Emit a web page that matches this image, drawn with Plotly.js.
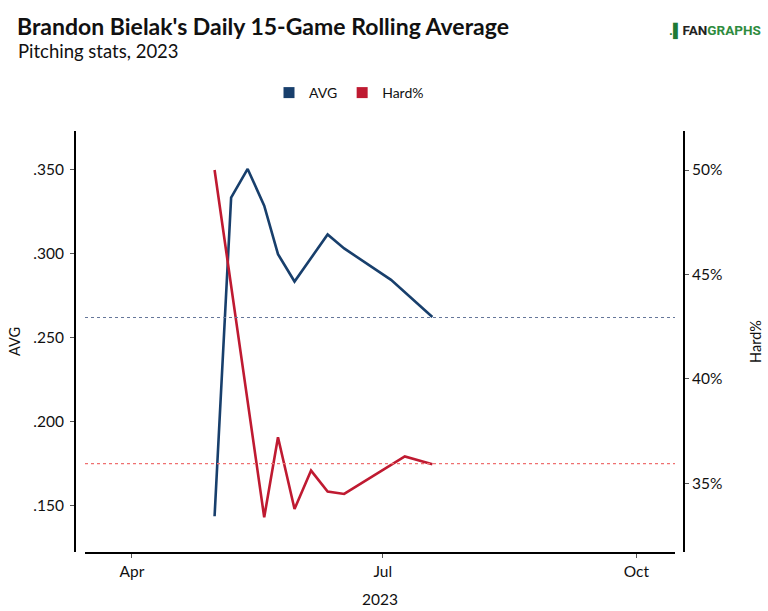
<!DOCTYPE html>
<html>
<head>
<meta charset="utf-8">
<script src="https://cdn.plot.ly/plotly-3.0.1.min.js"></script>
<style>
  html, body { margin: 0; padding: 0; background: #fff; }
  #chart { width: 768px; height: 611px; }
</style>
</head>
<body>
<div id="chart"></div>
<script>
// ---- data ----
var avgDates  = ['2023-05-01','2023-05-07','2023-05-13','2023-05-19','2023-05-24','2023-05-30','2023-06-11','2023-06-17','2023-07-04','2023-07-19'];
var avgValues = [0.1439, 0.3335, 0.3506, 0.3288, 0.2999, 0.2836, 0.3116, 0.3033, 0.2846, 0.2625];
var hardDates  = ['2023-05-01','2023-05-19','2023-05-24','2023-05-30','2023-06-05','2023-06-11','2023-06-17','2023-07-09','2023-07-19'];
var hardValues = [0.500, 0.3336, 0.372, 0.3376, 0.356, 0.346, 0.3448, 0.3628, 0.3591];
var avgSeason  = 0.2622;   // dotted reference for AVG
var hardSeason = 0.3593;   // dotted reference for Hard%
var xTickVals  = ['2023-04-01','2023-07-01','2023-10-01'];
var xTickText  = ['Apr','Jul','Oct'];
var avgTicks   = [0.150, 0.200, 0.250, 0.300, 0.350];
var avgTickText = ['.150','.200','.250','.300','.350'];
var hardTicks  = [0.35, 0.40, 0.45, 0.50];
var hardTickText = ['35%','40%','45%','50%'];

var blue = '#183f6c';
var red  = '#bf1a31';
var FONT = 'Lato, "Open Sans", sans-serif';

var traces = [
  { x: avgDates, y: avgValues, type: 'scatter', mode: 'lines', name: 'AVG',
    line: { color: blue, width: 2.6 }, yaxis: 'y', showlegend: false },
  { x: hardDates, y: hardValues, type: 'scatter', mode: 'lines', name: 'Hard%',
    line: { color: red, width: 2.6 }, yaxis: 'y2', showlegend: false },
  { x: [null], y: [null], type: 'scatter', mode: 'markers', name: 'AVG',
    marker: { color: blue, symbol: 'square', size: 11 }, yaxis: 'y' },
  { x: [null], y: [null], type: 'scatter', mode: 'markers', name: 'Hard%',
    marker: { color: red, symbol: 'square', size: 11 }, yaxis: 'y2' }
];

var tickFont = { family: FONT, size: 15.5, color: '#111' };

var layout = {
  width: 768, height: 611,
  paper_bgcolor: '#fff', plot_bgcolor: '#fff',
  font: { family: FONT, size: 14, color: '#111' },
  margin: { l: 75, r: 84, t: 131, b: 59, pad: 0 },
  title: { text: "<b>Brandon Bielak's Daily 15-Game Rolling Average</b>",
           font: { family: FONT, size: 23, color: '#111' },
           xref: 'container', yref: 'container', x: 17/768, xanchor: 'left',
           y: 1 - 27/611, yanchor: 'middle' },
  annotations: [
    { text: 'Pitching stats, 2023', xref: 'paper', yref: 'paper',
      x: -59/609, xanchor: 'left', y: 1 + (131-51)/421, yanchor: 'middle',
      showarrow: false, font: { family: FONT, size: 18.5, color: '#111' } },
    { text: '<b><span style="color:#1e7a34">.\u258C</span><span style="color:#222">FAN</span><span style="color:#2e8b3e">GRAPHS</span></b>',
      xref: 'paper', yref: 'paper', x: (763-75)/609, xanchor: 'right',
      y: 1 + (131-31)/421, yanchor: 'middle', showarrow: false,
      font: { family: 'Roboto, sans-serif', size: 13.5 } }
  ],
  legend: { orientation: 'h', x: (349-75)/609, xanchor: 'center', y: 1 + (131-93)/421, yanchor: 'middle',
            font: { family: FONT, size: 14, color: '#111' }, itemclick: false, traceorder: 'normal' },
  xaxis: {
    type: 'date', range: ['2023-03-15', '2023-10-15'],
    domain: [10/609, 600/609],
    tickvals: xTickVals, ticktext: xTickText,
    showline: true, linecolor: '#000', linewidth: 2,
    ticks: 'outside', ticklen: 4, tickcolor: '#555', tickwidth: 1,
    showgrid: false, zeroline: false,
    tickfont: tickFont,
    title: { text: '2023', font: { family: FONT, size: 15.5, color: '#111' }, standoff: 16 }
  },
  yaxis: {
    range: [0.1226, 0.3732], anchor: 'free', position: 0,
    tickvals: avgTicks, ticktext: avgTickText,
    showline: true, linecolor: '#000', linewidth: 2,
    ticks: 'outside', ticklen: 4, tickcolor: '#555', tickwidth: 1,
    ticklabelstandoff: 3,
    showgrid: false, zeroline: false,
    tickfont: tickFont,
    title: { text: 'AVG', font: { family: FONT, size: 14.5, color: '#111' }, standoff: 8 }
  },
  yaxis2: {
    range: [0.3170, 0.5187], overlaying: 'y', side: 'right', anchor: 'free', position: 1,
    tickvals: hardTicks, ticktext: hardTickText,
    showline: true, linecolor: '#000', linewidth: 2,
    ticks: 'outside', ticklen: 4, tickcolor: '#555', tickwidth: 1,
    showgrid: false, zeroline: false,
    tickfont: tickFont,
    title: { text: 'Hard%', font: { family: FONT, size: 14.5, color: '#111' }, standoff: 28 }
  },
  shapes: [
    { type: 'line', xref: 'x domain', x0: 0, x1: 1, yref: 'y', y0: avgSeason, y1: avgSeason,
      line: { color: '#66779a', width: 1.2, dash: 'dot' } },
    { type: 'line', xref: 'x domain', x0: 0, x1: 1, yref: 'y2', y0: hardSeason, y1: hardSeason,
      line: { color: '#ef7070', width: 1.2, dash: 'dot' } }
  ]
};

Plotly.newPlot('chart', traces, layout, { displayModeBar: false, staticPlot: true });
</script>
</body>
</html>
